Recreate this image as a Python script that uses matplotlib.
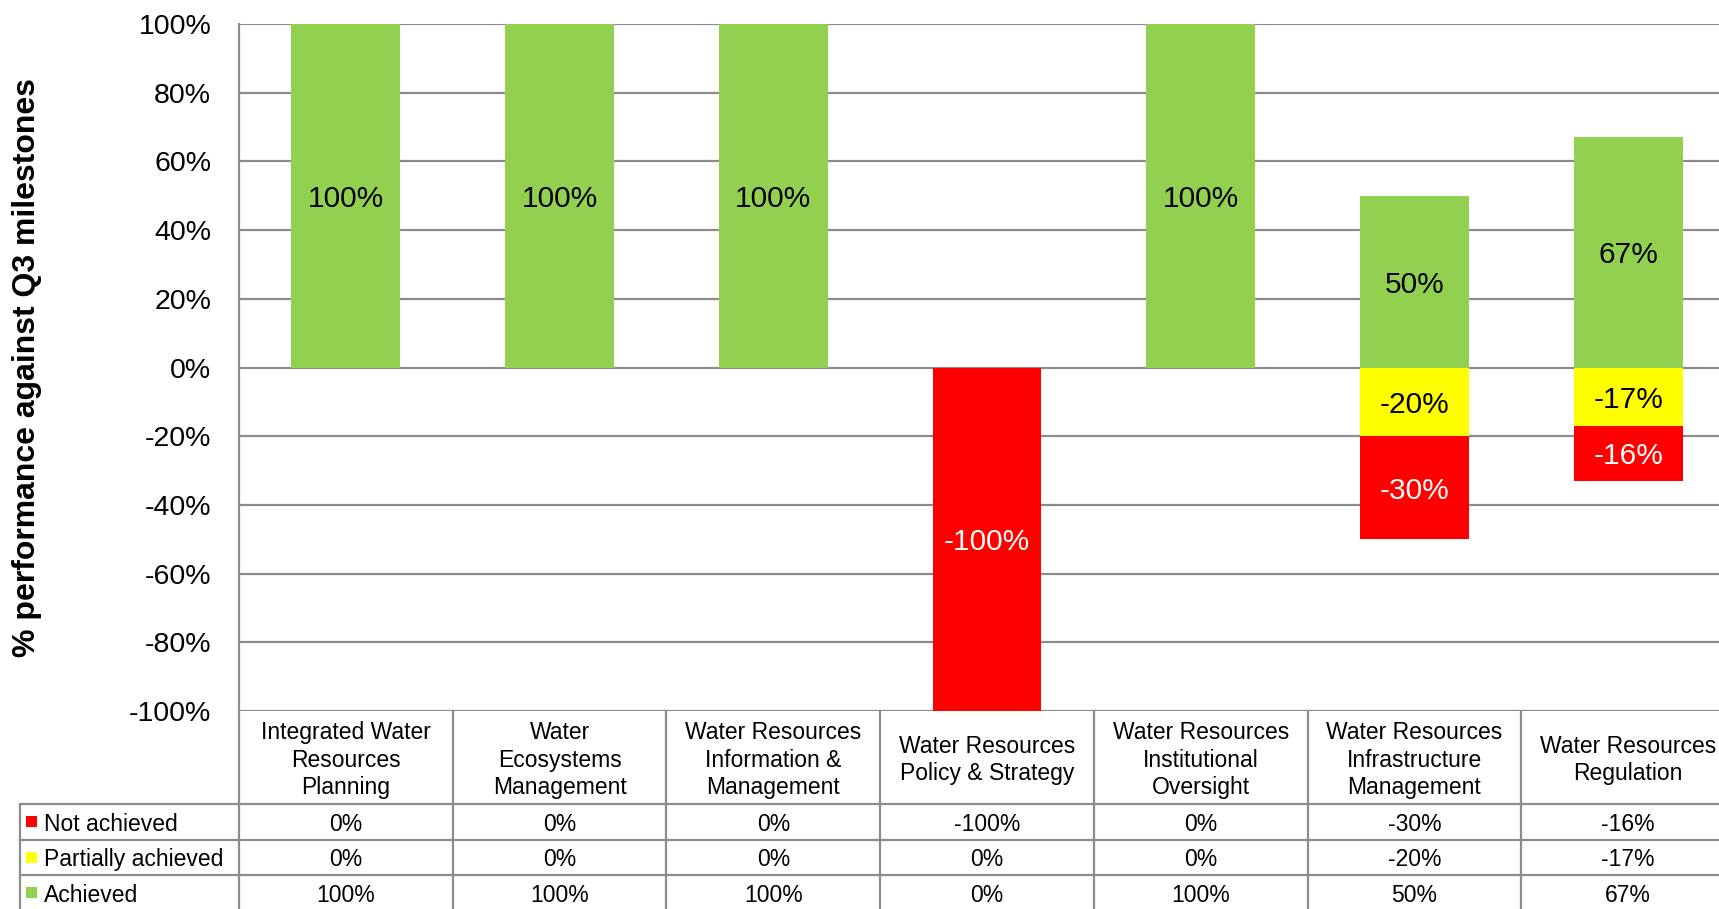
import matplotlib.pyplot as plt
import matplotlib.transforms as mtransforms
from matplotlib.patches import Rectangle
import numpy as np

plt.rcParams['font.family'] = ['Liberation Sans', 'DejaVu Sans']

# dane
kategorie = [
    "Integrated Water\nResources\nPlanning",
    "Water\nEcosystems\nManagement",
    "Water Resources\nInformation &\nManagement",
    "Water Resources\nPolicy & Strategy",
    "Water Resources\nInstitutional\nOversight",
    "Water Resources\nInfrastructure\nManagement",
    "Water Resources\nRegulation",
]
nie_osiagniete = [0, 0, 0, -100, 0, -30, -16]
czesciowo = [0, 0, 0, 0, 0, -20, -17]
osiagniete = [100, 100, 100, 0, 100, 50, 67]

serie = ["Not achieved", "Partially achieved", "Achieved"]
kolory = ["#FF0000", "#FFFF00", "#92D050"]
kolor_linii = "#8C8C8C"

fig = plt.figure(figsize=(17.19, 9.09), dpi=100)
# os wychodzi poza prawa krawedz obrazka, tak jak w oryginale
ax = fig.add_axes([239 / 1719, 1 - 711 / 909, 1496 / 1719, 687 / 909])

x = np.arange(len(kategorie))
szer = 0.51
rozmiar_etykiet = 21.5
rozmiar_tabeli = 16.5

ax.bar(x, osiagniete, szer, color=kolory[2], zorder=3)
ax.bar(x, czesciowo, szer, color=kolory[1], zorder=3)
ax.bar(x, nie_osiagniete, szer, bottom=czesciowo, color=kolory[0], zorder=3)

# etykiety na slupkach
for i in range(len(x)):
    if osiagniete[i] != 0:
        ax.text(x[i], osiagniete[i] / 2, f"{osiagniete[i]}%", ha="center", va="center_baseline",
                fontsize=rozmiar_etykiet, color="black", zorder=4)
    if czesciowo[i] != 0:
        ax.text(x[i], czesciowo[i] / 2, f"{czesciowo[i]}%", ha="center", va="center_baseline",
                fontsize=rozmiar_etykiet, color="black", zorder=4)
    if nie_osiagniete[i] != 0:
        ax.text(x[i], czesciowo[i] + nie_osiagniete[i] / 2, f"{nie_osiagniete[i]}%",
                ha="center", va="center_baseline", fontsize=rozmiar_etykiet, color="white", zorder=4)

ax.set_xlim(-0.5, len(x) - 0.5)
ax.set_ylim(-100, 100)
ax.set_yticks(np.arange(-100, 101, 20))
ax.set_yticklabels([f"{v}%" for v in range(-100, 101, 20)])
ax.tick_params(axis="y", length=0, pad=20, labelsize=20.5)
ax.set_xticks([])
ax.yaxis.grid(True, color=kolor_linii, linewidth=1.6, zorder=0)
for s in ["top", "right", "bottom"]:
    ax.spines[s].set_visible(False)
ax.spines["left"].set_color(kolor_linii)
ax.spines["left"].set_linewidth(1.6)

fig.text(27 / 1719, 1 - 367.5 / 909, "% performance against Q3 milestones",
         rotation=90, ha="center", va="center", fontsize=23, fontweight="bold")

# tabela danych pod wykresem
tr = mtransforms.blended_transform_factory(ax.transData, ax.transAxes)
lewa = -1.526
y_naglowek = -0.1354
wysokosc = 0.0517
y_dol = y_naglowek - 3 * wysokosc - 0.01
prawa = len(x) - 0.5 + 0.5

ax.plot([-0.5, -0.5], [0, y_dol], transform=tr, color=kolor_linii, lw=1.6, clip_on=False)
for k in range(1, len(x) + 1):
    ax.plot([k - 0.5, k - 0.5], [0, y_dol], transform=tr, color=kolor_linii, lw=1.6, clip_on=False)
ax.plot([lewa, lewa], [y_naglowek, y_dol], transform=tr, color=kolor_linii, lw=1.6, clip_on=False)
for r in range(3):
    yy = y_naglowek - r * wysokosc
    ax.plot([lewa, prawa], [yy, yy], transform=tr, color=kolor_linii, lw=1.6, clip_on=False)

for i, kat in enumerate(kategorie):
    ax.text(x[i], y_naglowek / 2 - 0.004, kat, transform=tr, ha="center", va="center",
            fontsize=rozmiar_tabeli, linespacing=1.24, clip_on=False)

wiersze = [nie_osiagniete, czesciowo, osiagniete]
for r, (nazwa, wart, kol) in enumerate(zip(serie, wiersze, kolory)):
    yc = y_naglowek - (r + 0.5) * wysokosc
    ax.add_patch(Rectangle((lewa + 0.031, yc - 0.008), 0.052, 0.016, transform=tr,
                           facecolor=kol, edgecolor="none", clip_on=False))
    ax.text(lewa + 0.114, yc, nazwa, transform=tr, ha="left", va="center_baseline",
            fontsize=rozmiar_tabeli, clip_on=False)
    for i in range(len(x)):
        ax.text(x[i], yc, f"{wart[i]}%", transform=tr, ha="center", va="center_baseline",
                fontsize=rozmiar_tabeli, clip_on=False)

fig.savefig("out.png", dpi=100)
